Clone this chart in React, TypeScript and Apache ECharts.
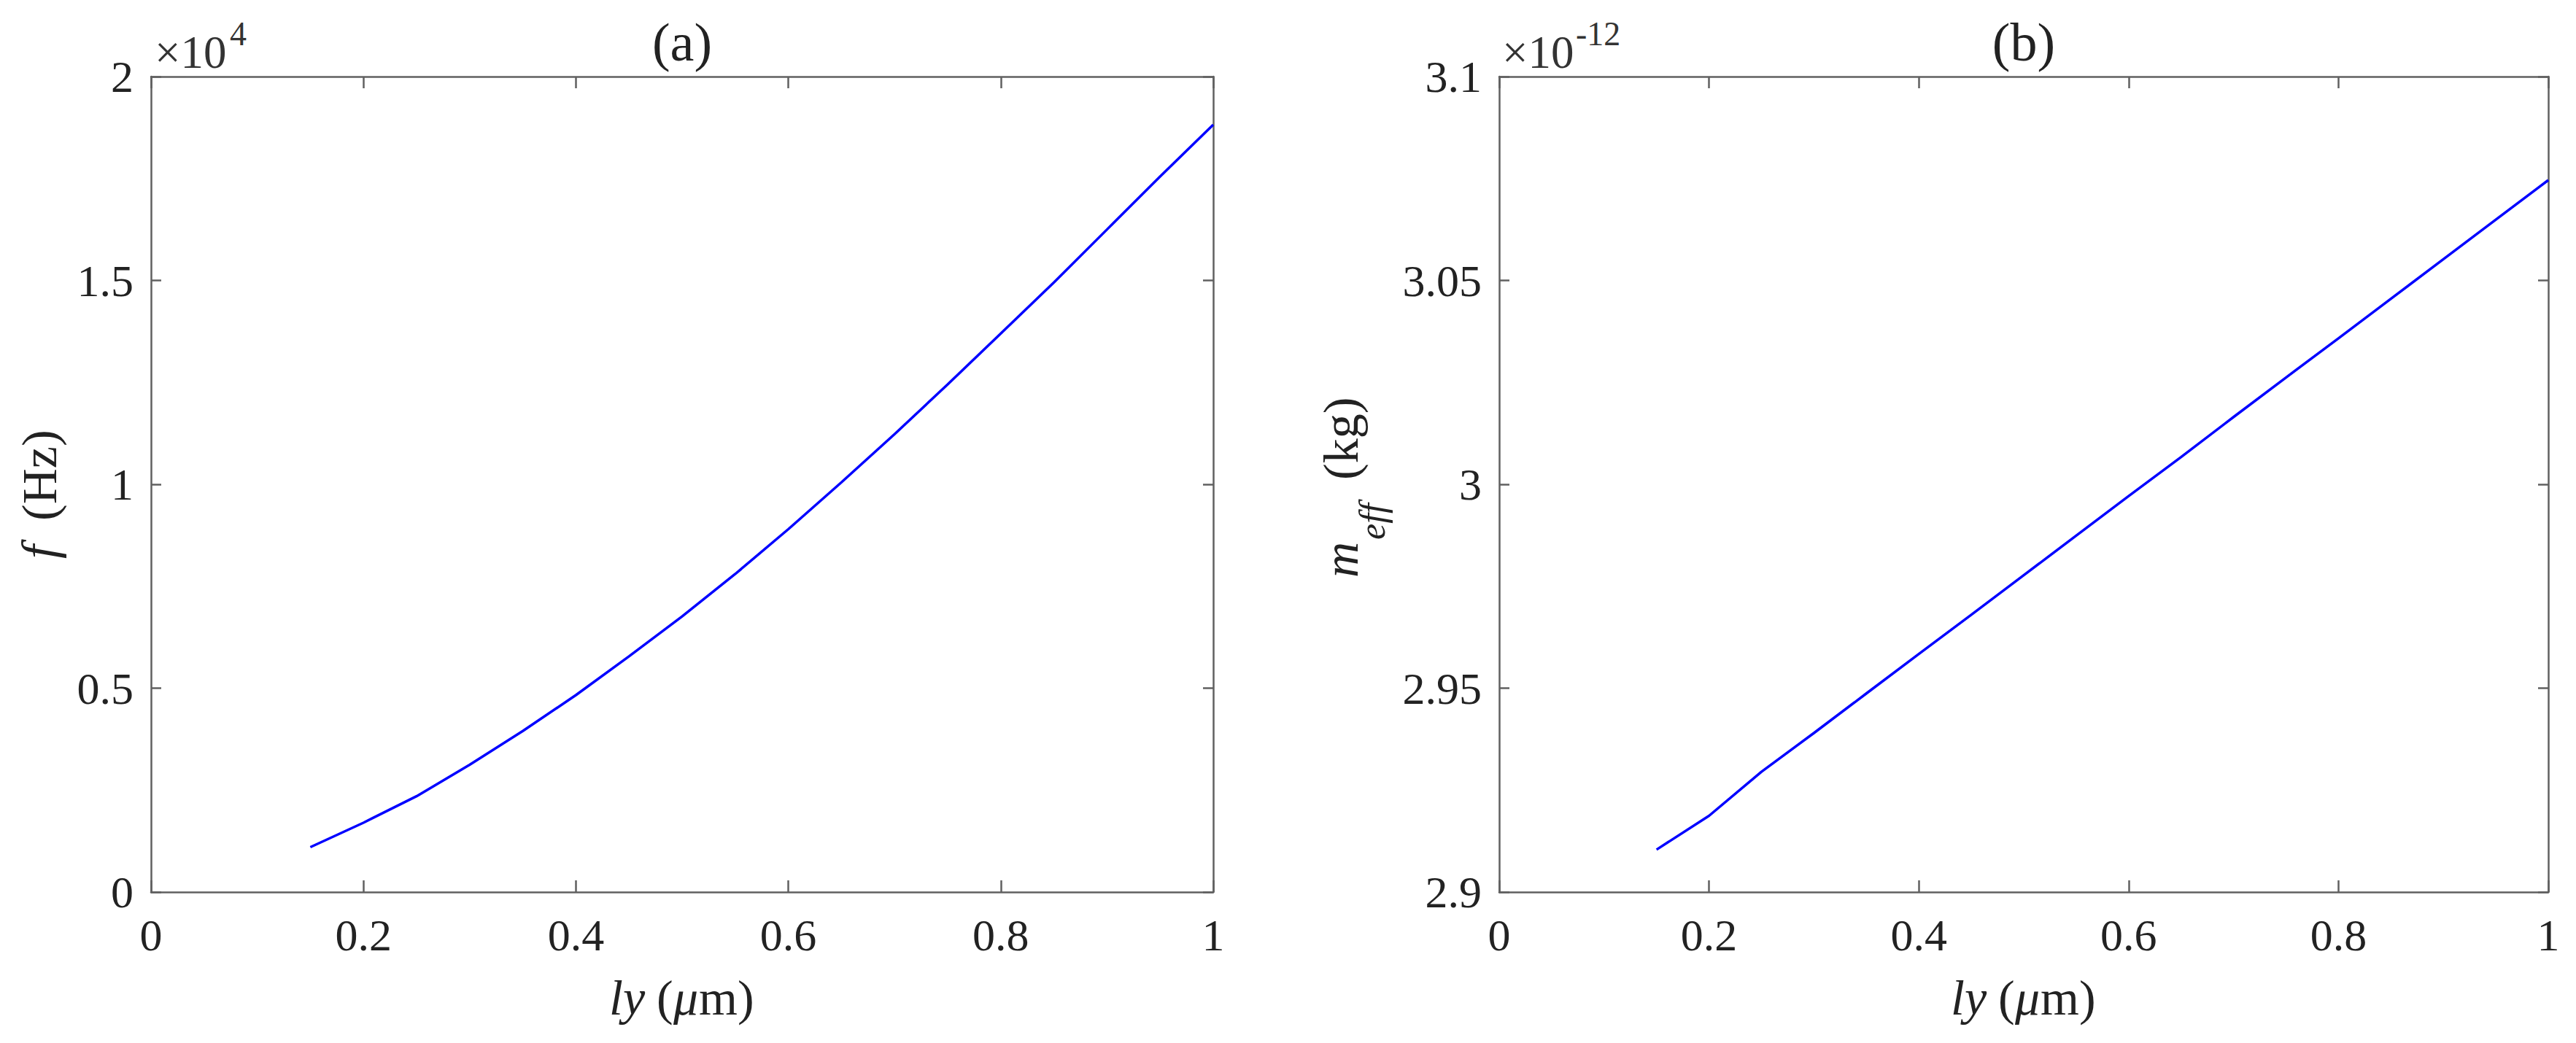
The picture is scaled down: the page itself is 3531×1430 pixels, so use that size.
import React, { useEffect, useRef } from "react";
import * as echarts from "echarts";

// ---- data ----
const lyValues = [0.15, 0.2, 0.25, 0.3, 0.35, 0.4, 0.45, 0.5, 0.55, 0.6, 0.65, 0.7, 0.75, 0.8, 0.85, 0.9, 0.95, 1.0];
const freqHz = [1100, 1700, 2350, 3120, 3950, 4830, 5780, 6760, 7800, 8900, 10050, 11230, 12450, 13700, 14950, 16250, 17550, 18820];
const meffE12 = [2.9104, 2.9187, 2.9295, 2.939, 2.9487, 2.9584, 2.968, 2.9777, 2.9874, 2.9971, 3.0067, 3.0165, 3.0262, 3.0358, 3.0455, 3.0552, 3.0649, 3.0746];

const xTicks = [0, 0.2, 0.4, 0.6, 0.8, 1];
const yTicksA = [0, 0.5, 1, 1.5, 2];
const yTicksB = [2.9, 2.95, 3, 3.05, 3.1];

const FONT = '"Liberation Serif", "Times New Roman", serif';
const AXIS_COLOR = "#606060";
const TEXT_COLOR = "#222222";
const LINE_COLOR = "#0000ff";

function fmt(v: number) {
  return String(parseFloat(v.toFixed(3)));
}

export default function App() {
  const ref = useRef<HTMLDivElement>(null);

  useEffect(() => {
    if (!ref.current) return;
    const chart = echarts.init(ref.current, undefined, { renderer: "svg" });

    const lineStyle = { color: AXIS_COLOR, width: 2.5 };
    const labelStyle = { fontFamily: FONT, fontSize: 62, color: TEXT_COLOR };

    const mkX = (grid: number, pos: "bottom" | "top") => ({
      gridIndex: grid,
      type: "value",
      position: pos,
      min: xTicks[0],
      max: xTicks[xTicks.length - 1],
      interval: 0.2,
      axisLine: { show: true, onZero: false, lineStyle },
      axisTick: { show: true, inside: true, length: 16, lineStyle },
      axisLabel: {
        show: pos === "bottom",
        margin: 28,
        ...labelStyle,
        formatter: (v: number) => fmt(v),
      },
      splitLine: { show: false },
    });

    const mkY = (
      grid: number,
      pos: "left" | "right",
      ticks: number[],
      interval: number,
      scale: number
    ) => ({
      gridIndex: grid,
      type: "value",
      position: pos,
      min: ticks[0] * scale,
      max: ticks[ticks.length - 1] * scale,
      interval: interval * scale,
      axisLine: { show: true, onZero: false, lineStyle },
      axisTick: { show: true, inside: true, length: 14, lineStyle },
      axisLabel: {
        show: pos === "left",
        margin: 24,
        ...labelStyle,
        formatter: (v: number) => fmt(v / scale),
      },
      splitLine: { show: false },
    });

    const serif = (extra: any) => ({
      fontFamily: FONT,
      fill: TEXT_COLOR,
      ...extra,
    });

    const rot = Math.PI / 2;

    const xName = (cx: number) => [
      { type: "text", x: cx - 103, y: 1368, style: serif({ text: "ly", fontSize: 68, fontStyle: "italic", textAlign: "left", textVerticalAlign: "middle" }) },
      { type: "text", x: cx - 38, y: 1368, style: serif({ text: "(", fontSize: 68, textAlign: "left", textVerticalAlign: "middle" }) },
      { type: "text", x: cx - 15, y: 1368, style: serif({ text: "μ", fontSize: 68, fontStyle: "italic", textAlign: "left", textVerticalAlign: "middle" }) },
      { type: "text", x: cx + 20, y: 1368, style: serif({ text: "m)", fontSize: 68, textAlign: "left", textVerticalAlign: "middle" }) },
    ];

    chart.setOption({
      animation: false,
      backgroundColor: "#ffffff",
      grid: [
        { left: 207, top: 105, width: 1456, height: 1118 },
        { left: 2055, top: 105, width: 1438, height: 1118 },
      ],
      xAxis: [mkX(0, "bottom"), mkX(0, "top"), mkX(1, "bottom"), mkX(1, "top")],
      yAxis: [
        mkY(0, "left", yTicksA, 0.5, 10000),
        mkY(0, "right", yTicksA, 0.5, 10000),
        mkY(1, "left", yTicksB, 0.05, 1),
        mkY(1, "right", yTicksB, 0.05, 1),
      ],
      series: [
        {
          type: "line",
          xAxisIndex: 0,
          yAxisIndex: 0,
          data: lyValues.map((x, i) => [x, freqHz[i]]),
          showSymbol: false,
          symbol: "none",
          lineStyle: { color: LINE_COLOR, width: 3.5 },
          itemStyle: { color: LINE_COLOR },
        },
        {
          type: "line",
          xAxisIndex: 2,
          yAxisIndex: 2,
          data: lyValues.map((x, i) => [x, meffE12[i]]),
          showSymbol: false,
          symbol: "none",
          lineStyle: { color: LINE_COLOR, width: 3.5 },
          itemStyle: { color: LINE_COLOR },
        },
      ],
      graphic: [
        // titles
        { type: "text", x: 935, y: 58, style: serif({ text: "(a)", fontSize: 74, textAlign: "center", textVerticalAlign: "middle" }) },
        { type: "text", x: 2774, y: 58, style: serif({ text: "(b)", fontSize: 74, textAlign: "center", textVerticalAlign: "middle" }) },
        // exponents
        { type: "text", x: 212, y: 72, style: serif({ text: "×10", fontSize: 63, textAlign: "left", textVerticalAlign: "middle", fill: "#333" }) },
        { type: "text", x: 315, y: 46, style: serif({ text: "4", fontSize: 46, textAlign: "left", textVerticalAlign: "middle", fill: "#333" }) },
        { type: "text", x: 2059, y: 72, style: serif({ text: "×10", fontSize: 63, textAlign: "left", textVerticalAlign: "middle", fill: "#333" }) },
        { type: "text", x: 2160, y: 46, style: serif({ text: "-12", fontSize: 46, textAlign: "left", textVerticalAlign: "middle", fill: "#333" }) },
        // x axis names
        ...xName(938),
        ...xName(2777),
        // y axis name (a): f (Hz)
        { type: "text", x: 54, y: 766, rotation: rot, style: serif({ text: "f", fontSize: 68, fontStyle: "italic", textAlign: "left", textVerticalAlign: "middle" }) },
        { type: "text", x: 54, y: 714, rotation: rot, style: serif({ text: "(Hz)", fontSize: 68, textAlign: "left", textVerticalAlign: "middle" }) },
        // y axis name (b): m_eff (kg)
        { type: "text", x: 1838, y: 792, rotation: rot, style: serif({ text: "m", fontSize: 68, fontStyle: "italic", textAlign: "left", textVerticalAlign: "middle" }) },
        { type: "text", x: 1881, y: 740, rotation: rot, style: serif({ text: "eff", fontSize: 50, fontStyle: "italic", textAlign: "left", textVerticalAlign: "middle" }) },
        { type: "text", x: 1838, y: 658, rotation: rot, style: serif({ text: "(kg)", fontSize: 68, textAlign: "left", textVerticalAlign: "middle" }) },
      ],
    });

    return () => {
      chart.dispose();
    };
  }, []);

  return (
    <div
      ref={ref}
      style={{ position: "absolute", left: 0, top: 0, width: 3531, height: 1430, background: "#fff" }}
    />
  );
}
